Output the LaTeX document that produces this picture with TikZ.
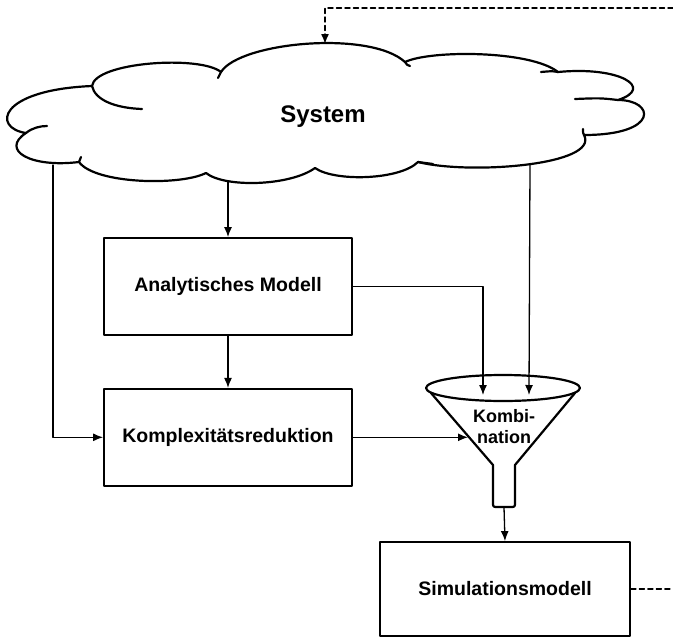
\documentclass[tikz,border=0pt]{standalone}
\usepackage{fontspec}
\setmainfont{Liberation Sans}
\usetikzlibrary{positioning,arrows.meta}
\tikzset{>={Latex[length=10pt,width=8pt]}}

\begin{document}
\begin{tikzpicture}[x=1pt, y=-1pt,
                    line cap=round, line join=round,
                    box/.style={draw, line width=1.8pt, minimum width=248pt, minimum height=97pt,
                                font=\bfseries\fontsize{19.5}{22}\selectfont},
                    flow/.style={->, line width=1.3pt},
                    feedback/.style={->, line width=1.4pt, dash pattern=on 5pt off 3.5pt},
                    puff/.style={line width=2.2pt}]
  \useasboundingbox (0,0) rectangle (673,638);

  % cloud outline, puff by puff
  \draw[puff] (26,133) .. controls (-8,128) and (-2,90) .. (92,86)
    .. controls (95,62) and (200,55) .. (221,72)
    .. controls (240,42) and (370,30) .. (405,62)
    .. controls (430,50) and (530,50) .. (558,72)
    .. controls (620,66) and (655,88) .. (618,100)
    .. controls (655,100) and (660,135) .. (584,135)
    .. controls (600,165) and (470,175) .. (418,162)
    .. controls (400,180) and (335,182) .. (315,168)
    .. controls (290,186) and (225,188) .. (206,173)
    .. controls (180,186) and (95,184) .. (79,162)
    .. controls (30,168) and (0,150) .. (26,133) -- cycle;
  % inner strokes of the puffs
  \draw[puff] (26,133) .. controls (32,128) and (40,126) .. (47,126);
  \draw[puff] (92,86) .. controls (95,100) and (115,108) .. (142,109);
  \draw[puff] (221,72) .. controls (219,75) .. (218,78);
  \draw[puff] (405,62) .. controls (407,65) .. (410,66);
  \draw[puff] (558,72) .. controls (552,71) .. (541,72);
  \draw[puff] (618,100) .. controls (600,98) .. (575,99);
  \draw[puff] (584,135) .. controls (583,133) .. (583,129);
  \draw[puff] (418,162) .. controls (425,163) .. (433,164);
  \draw[puff] (79,162) .. controls (80,160) .. (81,157);
  \node (sys) at (323,117) {\bfseries\fontsize{24}{28}\selectfont System};
  \coordinate (sysT) at (325,44);
  \coordinate (sysL) at (53,165);
  \coordinate (sysM) at (228,182);
  \coordinate (sysR) at (530,165);

  % boxes
  \node[box] (ana) at (228,286.5) {Analytisches Modell};
  \node[box, below=52pt of ana] (kom) {Komplexitätsreduktion};
  \node[box, minimum width=250pt, minimum height=94pt] (sim) at (505,589) {Simulationsmodell};

  % funnel
  \draw[puff] (503,388) ellipse [x radius=77pt, y radius=13pt];
  \draw[puff] (431,393) -- (493,465) -- (493,502) .. controls (493,507) .. (498,507)
    -- (510,507) .. controls (515,507) .. (515,502) -- (515,465) -- (575,393);
  \node[align=center, font=\bfseries\fontsize{18}{21}\selectfont] (komb) at (504,427) {Kombi-\\nation};
  \coordinate (fnlA) at (483,395);
  \coordinate (fnlB) at (529,395);
  \coordinate (fnlW) at (468,436);
  \coordinate (fnlS) at (504,507);

  % feedback loop, leaves the picture on the right
  \coordinate (fbTop) at (673,8);
  \coordinate (fbBot) at (673,589);
  \draw[feedback] (fbTop) -| (sysT);
  \draw[feedback,-] (sim.east) -- (fbBot);

  % flows
  \draw[flow] (sysM) -- (ana.north);
  \draw[flow] (ana.south) -- (kom.north);
  \draw[flow] (sysL) |- (kom.west);
  \draw[flow] (kom.east) -- (kom.east -| fnlW);
  \draw[flow] (ana.east) -| (fnlA);
  \draw[flow] (sysR) -- (fnlB);
  \draw[flow] (fnlS) -- (sim.north);

\end{tikzpicture}
\end{document}
